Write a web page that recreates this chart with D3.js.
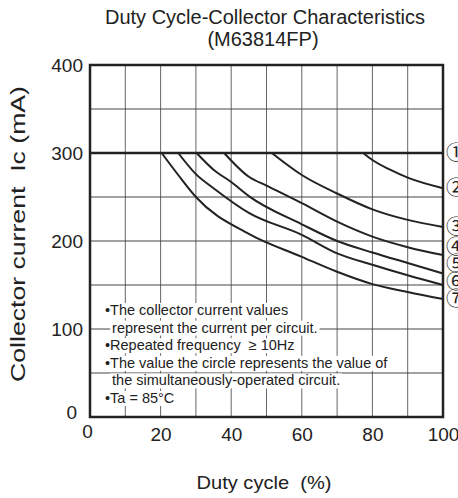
<!DOCTYPE html>
<html>
<head>
<meta charset="utf-8">
<script src="https://cdn.jsdelivr.net/npm/d3@7"></script>
<style>
body { margin: 0; background: #fff; }
text { font-family: "Liberation Sans", Arial, sans-serif; fill: #222; }
</style>
</head>
<body>
<svg id="chart" width="458" height="498"></svg>
<script>
// values: duty cycle (%) -> collector current (mA)
let dutyTicks = [0, 20, 40, 60, 80, 100];
let currentTicks = [0, 100, 200, 300, 400];
let curveNames = ["①", "②", "③", "④", "⑤", "⑥", "⑦"];

let curve1 = [[0, 300], [100, 300]];
let curve2 = [[77.4, 300], [80, 292], [85, 281], [90, 272], [100, 260]];
let curve3 = [[51.5, 300], [60, 275], [70, 254], [80, 236], [90, 224], [100, 216]];
let curve4 = [[38, 300], [45, 273], [50, 263], [60, 243], [70, 222], [80, 205], [90, 193], [100, 184]];
let curve5 = [[30.2, 300], [35, 281], [40, 267], [45, 251], [60, 219], [70, 200], [80, 187], [90, 175], [100, 163]];
let curve6 = [[25, 300], [30, 276], [35, 260], [45, 232], [60, 207], [70, 186], [80, 173], [90, 161], [100, 150]];
let curve7 = [[20.3, 300], [25, 275], [30, 250], [45, 208], [60, 182], [70, 165], [80, 151], [90, 142], [100, 134]];

let noteLines = [
    "•The collector current values",
    "represent the current per circuit.",
    "•Repeated frequency  ≥ 10Hz",
    "•The value the circle represents the value of",
    "the simultaneously-operated circuit.",
    "•Ta = 85°C"
];

let curves = [curve1, curve2, curve3, curve4, curve5, curve6, curve7];

let svg = d3.select("#chart");
let plotLeft = 90, plotRight = 443, plotTop = 65, plotBottom = 417;

let x = d3.scaleLinear().domain([0, 100]).range([plotLeft, plotRight]);
let y = d3.scaleLinear().domain([0, 400]).range([plotBottom, plotTop]);

// title
svg.append("text").attr("x", 265).attr("y", 24).attr("text-anchor", "middle")
    .style("font-size", "20px").text("Duty Cycle-Collector Characteristics");
svg.append("text").attr("x", 263).attr("y", 46).attr("text-anchor", "middle")
    .style("font-size", "20px").text("(M63814FP)");

// grid lines
svg.append("g").selectAll("line")
    .data(d3.range(10, 100, 10))
    .enter().append("line")
    .attr("x1", d => x(d)).attr("x2", d => x(d))
    .attr("y1", plotTop).attr("y2", plotBottom)
    .attr("stroke", "#666").attr("stroke-width", 1);

svg.append("g").selectAll("line")
    .data(d3.range(50, 400, 50).filter(d => d != 300))
    .enter().append("line")
    .attr("x1", plotLeft).attr("x2", plotRight)
    .attr("y1", d => y(d)).attr("y2", d => y(d))
    .attr("stroke", "#444").attr("stroke-width", 1);

// notes with white boxes behind each line
let notes = svg.append("g");
let bulletW = 0;
noteLines.forEach((line, i) => {
    let t = notes.append("text")
        .attr("y", 315 + i * 17.6)
        .style("font-size", "14.5px")
        .style("white-space", "pre")
        .text(line);
    if (i == 0) bulletW = t.node().getSubStringLength(0, 1);
    t.attr("x", line.startsWith("•") ? 105 : 107 + bulletW);
    let b = t.node().getBBox();
    notes.insert("rect", "text")
        .attr("x", b.x - 2).attr("y", b.y + 1)
        .attr("width", b.width + 4).attr("height", b.height - 1)
        .attr("fill", "#fff");
});

// curves
let line = d3.line().x(d => x(d[0])).y(d => y(d[1])).curve(d3.curveMonotoneX);
svg.append("g").selectAll("path")
    .data(curves)
    .enter().append("path")
    .attr("d", line)
    .attr("fill", "none")
    .attr("stroke", "#222")
    .attr("stroke-width", (d, i) => i == 0 ? 2.5 : 2);

// frame
svg.append("rect").attr("x", plotLeft).attr("y", plotTop)
    .attr("width", plotRight - plotLeft).attr("height", plotBottom - plotTop)
    .attr("fill", "none").attr("stroke", "#222").attr("stroke-width", 2.5);

// axes (labels only)
let xAxis = svg.append("g").attr("transform", `translate(0,${plotBottom})`)
    .call(d3.axisBottom(x).tickValues(dutyTicks).tickSize(0).tickPadding(11));
let yAxis = svg.append("g").attr("transform", `translate(${plotLeft},0)`)
    .call(d3.axisLeft(y).tickValues(currentTicks).tickSize(0).tickPadding(7));
[xAxis, yAxis].forEach(a => {
    a.select(".domain").remove();
    a.selectAll("text").style("font-size", "19px").attr("font-family", null).attr("fill", "#222");
});
xAxis.selectAll("text").filter(d => d == 0).attr("dx", "-3").attr("dy", "0.5em");
yAxis.selectAll("text").filter(d => d == 0).attr("dx", "-6").attr("dy", "0.1em");

// curve labels, stacked upward from the lowest so they do not overlap
let labelY = curves.map(c => y(c[c.length - 1][1]));
for (let i = labelY.length - 2; i >= 0; i--) {
    labelY[i] = Math.min(labelY[i], labelY[i + 1] - 17.5);
}
svg.append("g").selectAll("text")
    .data(curveNames)
    .enter().append("text")
    .attr("x", 446)
    .attr("y", (d, i) => labelY[i])
    .attr("dy", "0.36em")
    .style("font-family", "'Noto Sans CJK JP'")
    .style("font-size", "20px")
    .text(d => d);

// axis titles
svg.append("text").attr("x", 264).attr("y", 489).attr("text-anchor", "middle")
    .style("font-size", "19px").style("white-space", "pre")
    .attr("textLength", 135).attr("lengthAdjust", "spacingAndGlyphs")
    .text("Duty cycle  (%)");
svg.append("text")
    .attr("transform", "translate(25,234) rotate(-90)")
    .attr("text-anchor", "middle")
    .style("font-size", "19.5px").style("white-space", "pre")
    .attr("textLength", 296).attr("lengthAdjust", "spacingAndGlyphs")
    .text("Collector current  Ic (mA)");
</script>
</body>
</html>
